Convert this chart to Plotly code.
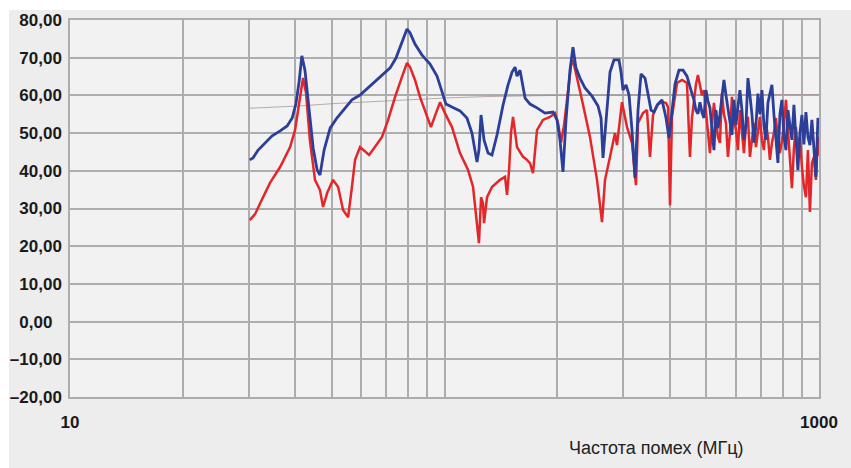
import plotly.graph_objects as go

# ---- data (frequency in MHz, level in dB) ----
blue_f = [30.2, 30.8, 31.8, 33.2, 34.6, 36.4, 38.0, 39.2, 40.1, 40.9, 41.6, 42.4, 43.5, 44.6, 45.7, 46.5,
          47.7, 49.5, 51.6, 54.2, 56.6, 59.5, 62.5, 65.2, 68.5, 71.6, 74.2, 76.5, 78.5, 79.4, 80.9, 83.4,
          87.1, 91.5, 95.5, 98.5, 100.9, 104.7, 110.0, 114.8, 118.4, 122.1, 123.6, 125.2, 127.5, 130.7,
          133.9, 138.1, 143.3, 147.8, 151.5, 154.3, 156.2, 159.1, 164.1, 169.2, 176.6, 185.5, 194.9,
          199.7, 203.4, 207.2, 211.1, 216.3, 220.3, 224.4, 230.0, 237.2, 247.7, 257.0, 261.8, 265.0,
          270.0, 276.7, 283.5, 292.4, 296.0, 299.7, 305.3, 311.0, 316.7, 322.6, 328.7, 334.8, 343.1,
          349.5, 356.0, 362.6, 371.6, 380.8, 390.4, 397.6, 405.0, 412.6, 422.8, 433.4, 444.1,
          452.3, 457.9, 463.6, 469.3, 475.1, 481.0, 486.9, 492.9, 499.0, 505.2, 511.5, 517.8, 524.2,
          530.7, 537.3, 543.9, 550.6, 557.4, 564.3, 571.3, 578.4, 585.5, 592.8, 600.1, 607.5, 615.0,
          622.6, 630.3, 638.1, 646.0, 654.0, 662.1, 670.3, 678.6, 687.0, 695.5, 704.1, 712.8, 721.6,
          730.5, 739.5, 748.7, 757.9, 767.3, 776.8, 786.4, 796.1, 806.0, 816.0, 826.1, 836.3, 846.6,
          857.1, 867.7, 878.4, 889.3, 900.3, 911.4, 922.7, 934.1, 945.7, 957.4, 969.2, 981.2, 993.3,
          1000.0]
blue_v = [42.9, 43.4, 45.5, 47.4, 49.2, 50.6, 51.9, 54.0, 57.7, 63.6, 70.5, 66.7, 56.1, 46.0, 40.2, 38.9,
          45.5, 51.3, 54.0, 56.7, 58.8, 60.1, 62.0, 63.6, 65.7, 67.3, 69.9, 73.4, 76.6, 77.6, 76.6, 73.6,
          70.7, 68.3, 65.1, 60.9, 57.7, 56.9, 55.9, 54.0, 50.0, 42.3, 45.5, 54.8, 48.2, 44.7,
          44.2, 49.5, 57.4, 62.8, 66.2, 67.5, 65.1, 66.7, 59.3, 57.7, 56.7, 55.3, 55.6,
          53.5, 48.2, 39.7, 53.5, 66.7, 72.8, 67.3, 64.6, 62.0, 59.8, 57.2, 54.0, 43.4,
          53.5, 66.2, 69.4, 69.4, 66.2, 61.4, 62.8, 60.1, 50.8, 38.1, 56.1, 65.7, 64.6,
          60.1, 56.1, 55.6, 57.7, 58.8, 54.0, 48.7, 56.1, 63.0, 66.7, 66.7, 65.1,
          62.0, 60.5, 58.8, 56.0, 55.1, 58.2, 55.5, 54.0, 61.4, 58.5, 56.7, 51.3, 45.5,
          56.1, 51.3, 55.0, 60.5, 64.1, 60.1, 56.1, 52.0, 49.5, 58.8, 52.1, 57.0, 61.4,
          56.1, 48.2, 52.0, 64.6, 60.0, 55.0, 47.5, 52.0, 60.5, 55.0, 61.4, 52.0, 48.2,
          58.0, 60.5, 62.8, 55.0, 48.0, 42.1, 55.0, 58.8, 49.0, 45.5, 56.1, 52.0, 48.2,
          57.5, 50.0, 40.2, 50.0, 54.8, 47.0, 55.6, 49.0, 46.8, 53.5, 47.0, 38.4, 54.0,
          52.0]

red_f = [30.2, 31.2, 32.2, 33.2, 34.2, 36.4, 38.7, 39.9, 41.1, 41.9, 42.7, 43.7, 45.1, 46.5, 47.4, 48.6,
         50.4, 52.0, 53.6, 55.3, 56.6, 57.7, 59.5, 61.4, 62.9, 65.2, 68.1, 70.7, 73.8, 77.0, 79.4, 80.9,
         83.4, 86.0, 88.7, 92.0, 94.9, 97.3, 100.3, 104.7, 110.0, 115.6, 119.2, 122.1, 123.6, 125.2,
         126.7, 127.5, 129.9, 133.9, 140.7, 145.1, 146.9, 148.7, 150.5, 152.4, 156.2, 162.1, 166.1,
         169.2, 172.3, 176.6, 183.2, 191.3, 197.3, 201.0, 204.7, 208.5, 213.7, 217.7, 220.3, 225.8,
         232.9, 244.6, 255.4, 263.4, 268.3, 276.7, 285.3, 288.8, 292.4, 297.8, 307.2, 316.7, 324.5,
         328.7, 338.8, 347.3, 353.8, 360.4, 369.4, 380.8, 390.4, 395.2, 400.1, 405.0, 417.7, 430.7,
         444.1,
         452.3, 457.9, 463.6, 469.3, 475.1, 481.0, 486.9, 492.9, 499.0, 505.2, 511.5, 517.8, 524.2,
         530.7, 537.3, 543.9, 550.6, 557.4, 564.3, 571.3, 578.4, 585.5, 592.8, 600.1, 607.5, 615.0,
         622.6, 630.3, 638.1, 646.0, 654.0, 662.1, 670.3, 678.6, 687.0, 695.5, 704.1, 712.8, 721.6,
         730.5, 739.5, 748.7, 757.9, 767.3, 776.8, 786.4, 796.1, 806.0, 816.0, 826.1, 836.3, 846.6,
         857.1, 867.7, 878.4, 889.3, 900.3, 911.4, 922.7, 934.1, 945.7, 957.4, 969.2, 981.2, 993.3,
         1000.0]
red_v = [26.9, 28.5, 31.4, 34.0, 36.8, 41.0, 46.3, 50.8, 58.8, 64.6, 60.6, 48.2, 37.6, 34.9, 30.4, 34.1,
         37.6, 35.7, 29.6, 27.7, 35.7, 42.9, 46.3, 45.0, 44.2, 46.3, 49.0, 53.5, 59.6, 64.9, 68.6, 67.5,
         64.1, 59.6, 56.1, 51.6, 55.3, 58.2, 55.3, 51.6, 44.7, 40.2, 35.7, 26.9, 20.8, 33.0,
         31.4, 26.1, 33.0, 35.7, 37.6, 38.4, 33.6, 40.0, 50.0, 54.3, 46.3, 43.7, 42.9,
         42.0, 39.4, 50.8, 53.5, 54.3, 55.3, 52.7, 47.5, 52.0, 62.0, 68.0, 69.4, 64.9,
         58.8, 49.0, 37.6, 26.4, 37.6, 43.7, 50.0, 46.8, 51.0, 58.2, 51.6, 47.4, 36.2,
         52.7, 55.3, 56.1, 43.7, 54.8, 57.5, 58.3, 58.0, 56.9, 30.9, 54.3, 63.3, 64.1,
         63.3,
         43.7, 54.0, 58.0, 63.0, 65.4, 62.5, 60.0, 61.4, 56.1, 50.0, 44.7, 52.0, 58.0,
         53.5, 49.0, 47.4, 60.6, 55.0, 52.7, 43.7, 50.0, 59.6, 54.0, 50.8, 45.5, 56.1,
         50.0, 44.7, 52.0, 54.3, 43.7, 48.0, 52.7, 46.3, 50.0, 54.3, 48.0, 45.5, 52.7,
         49.0, 42.9, 47.4, 50.0, 54.0, 48.0, 44.7, 48.0, 52.0, 58.8, 50.0, 42.1, 35.4,
         46.0, 51.6, 45.0, 49.0, 41.0, 36.0, 33.0, 45.5, 29.1, 42.0, 43.7, 37.6, 49.0,
         44.0]

limit_f = [30.2, 41.0, 50.0, 70.0, 100.0, 130.0, 200.0, 1000.0]
limit_v = [56.6, 57.2, 57.8, 58.6, 59.3, 59.7, 60.0, 60.2]

y_ticks = [-20, -10, 0, 10, 20, 30, 40, 50, 60, 70, 80]
y_text = ["\u201320,00", "\u201310,00", "0,00\u00a0\u00a0", "10,00", "20,00", "30,00",
          "40,00", "50,00", "60,00", "70,00", "80,00"]
x_ticks = [10, 1000]
x_text = ["10", "1000"]
x_minor = [20, 30, 40, 50, 60, 70, 80, 90, 100, 200, 300, 400, 500, 600, 700, 800, 900]
x_title = "Частота помех (МГц)"

grid = "#adadad"
font_family = "Liberation Sans, Arial, sans-serif"

fig = go.Figure()
fig.add_trace(go.Scatter(x=limit_f, y=limit_v, mode="lines",
                         line=dict(color="rgba(160,140,140,0.7)", width=1), hoverinfo="skip"))
fig.add_trace(go.Scatter(x=red_f, y=red_v, mode="lines",
                         line=dict(color="#e2262a", width=2.5)))
fig.add_trace(go.Scatter(x=blue_f, y=blue_v, mode="lines",
                         line=dict(color="#2b3f98", width=2.8)))

fig.update_layout(
    width=851, height=468,
    margin=dict(l=70, r=32, t=20, b=71),
    paper_bgcolor="white",
    plot_bgcolor="#f2f2f2",
    showlegend=False,
    shapes=[
        dict(type="rect", xref="paper", yref="paper", x0=-0.0814, x1=1.05, y0=-0.19, y1=1.0265,
             fillcolor="#ededed", line=dict(width=0), layer="below"),
        dict(type="rect", xref="paper", yref="paper", x0=0, x1=1, y0=0, y1=1,
             fillcolor="#f2f2f2", line=dict(width=0), layer="below"),
    ],
    annotations=[
        dict(text=x_title, xref="paper", yref="paper", x=0.7837, y=-0.135,
             xanchor="center", yanchor="middle", showarrow=False,
             font=dict(family=font_family, size=18, color="#222222")),
    ],
)

fig.update_xaxes(
    type="log", range=[1, 3], tickvals=x_ticks, ticktext=x_text, automargin=False,
    showgrid=True, gridcolor=grid, gridwidth=1.5,
    showline=True, mirror=True, linecolor=grid, linewidth=1.5,
    zeroline=False, ticks="", ticklabelstandoff=9,
    tickfont=dict(family=font_family, size=17, color="#1a1a1a", weight="bold"),
    minor=dict(tickvals=x_minor, showgrid=True, gridcolor=grid, gridwidth=1.5, ticks=""),
)
fig.update_yaxes(
    range=[-20, 80], tickvals=y_ticks, ticktext=y_text, automargin=False,
    showgrid=True, gridcolor=grid, gridwidth=1.5,
    showline=True, mirror=True, linecolor=grid, linewidth=1.5,
    zeroline=False, ticks="", ticklabelstandoff=3,
    tickfont=dict(family=font_family, size=17, color="#1a1a1a", weight="bold"),
)

fig.write_html("out.html", config={"displayModeBar": False},
               post_script="document.body.style.margin='0';")
